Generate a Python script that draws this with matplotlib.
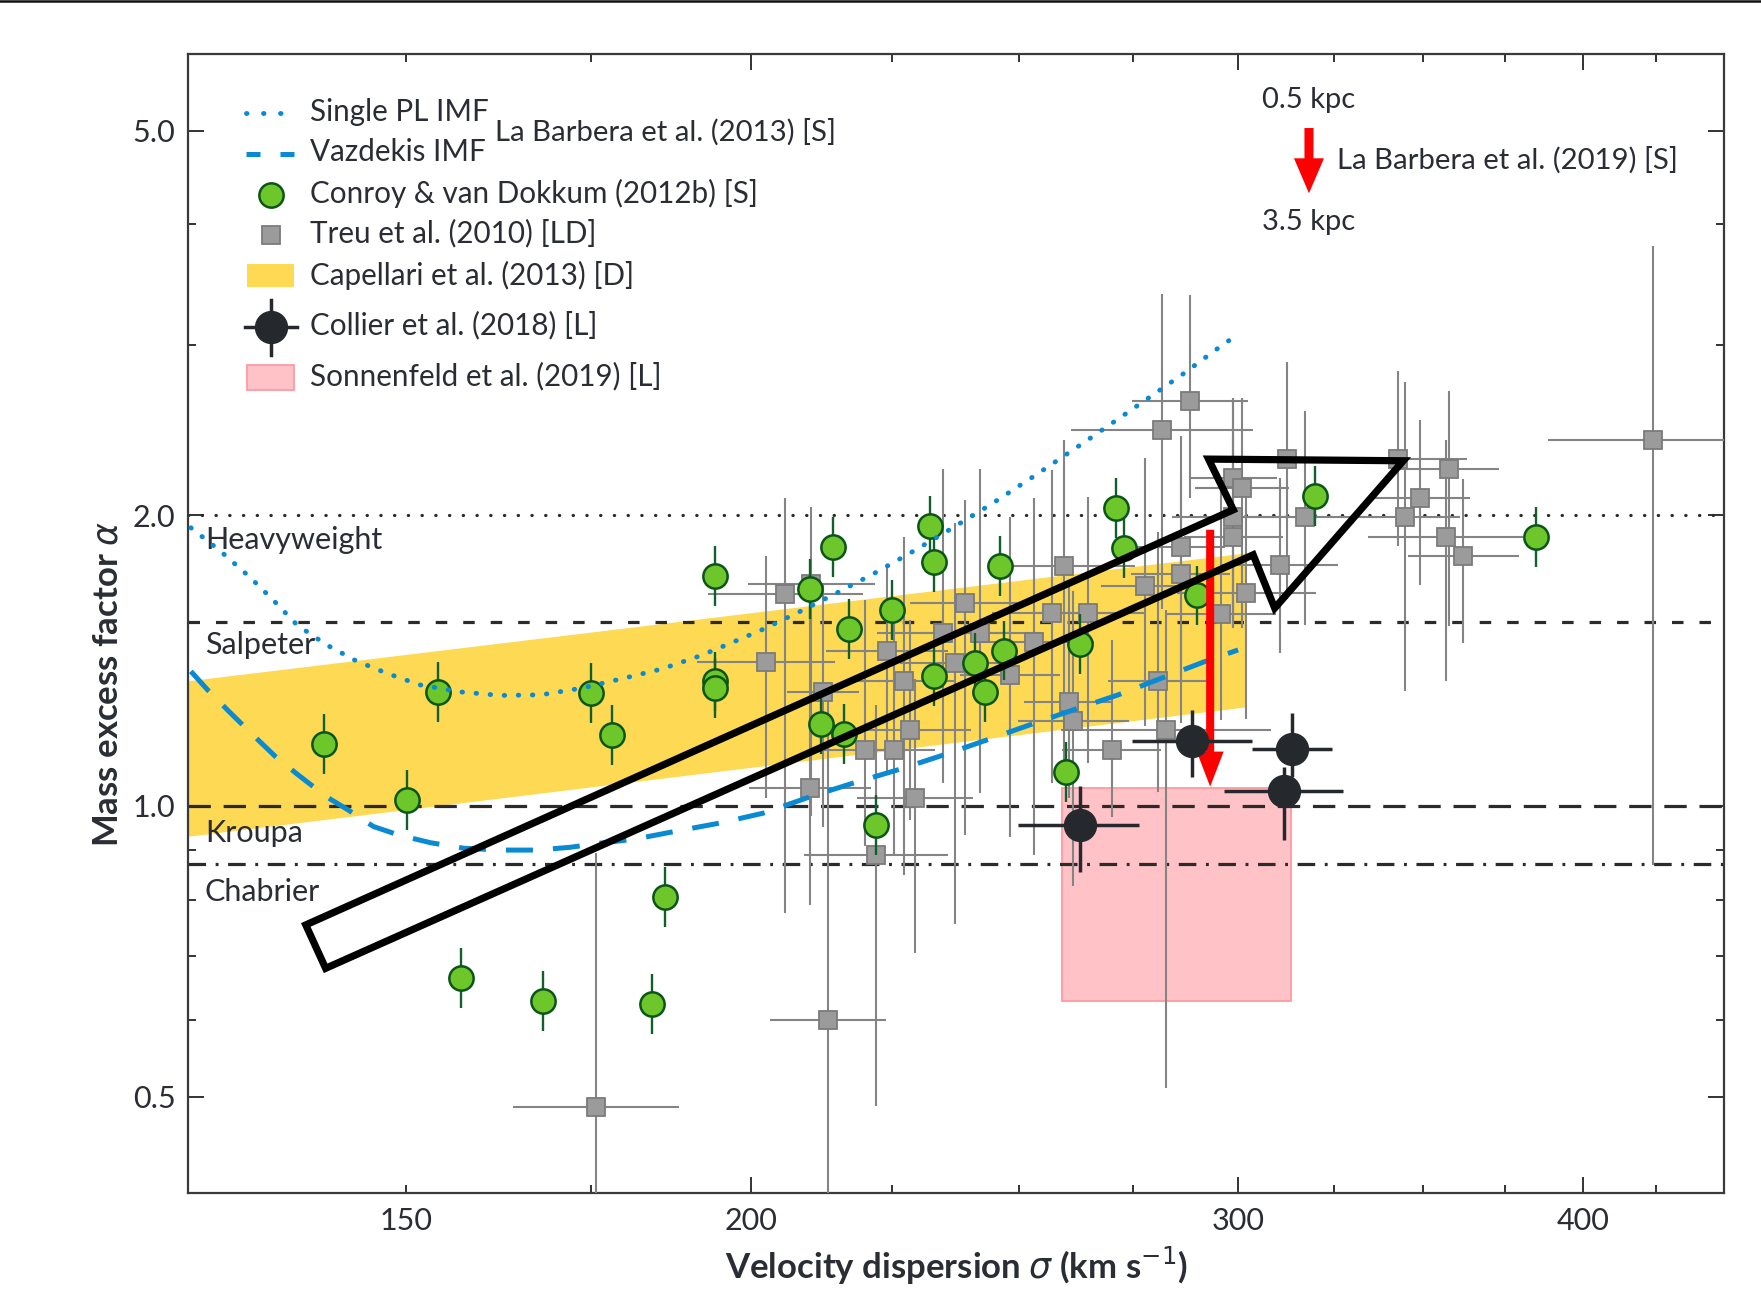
import numpy as np
import matplotlib
matplotlib.use("Agg")
import matplotlib.pyplot as plt
from matplotlib import font_manager
from matplotlib.patches import Polygon, Rectangle, FancyArrowPatch
from matplotlib.lines import Line2D
from matplotlib.ticker import FixedLocator, FixedFormatter, NullFormatter

###############################################################################
# Data

# Treu et al. (2010): sigma (km/s), alpha, errors in dex
treu_sigma = [175.8, 202.5, 205.8, 210.3, 210.1, 212.3, 213.3, 219.9, 221.9, 224.0,
              225.2, 227.2, 228.4, 229.3, 234.7, 237.1, 239.0, 242.1, 248.2, 253.1,
              257.1, 259.5, 260.6, 261.6, 264.9, 270.1, 277.7, 280.7, 281.7, 282.7,
              286.1, 286.1, 288.3, 295.8, 298.9, 301.1, 298.9, 298.9, 302.2, 310.7,
              312.7, 317.2, 342.8, 344.9, 349.2, 357.9, 356.8, 362.1, 424.1]
treu_alpha = [0.488, 1.408, 1.655, 1.697, 1.043, 1.313, 0.600, 1.143, 0.890, 1.445,
              1.143, 1.345, 1.198, 1.018, 1.509, 1.405, 1.620, 1.509, 1.366, 1.476,
              1.583, 1.773, 1.282, 1.223, 1.583, 1.143, 1.690, 1.345, 2.451, 1.198,
              1.855, 1.739, 2.622, 1.579, 2.184, 2.133, 1.990, 1.900, 1.661, 1.776,
              2.285, 1.990, 2.285, 1.990, 2.085, 2.233, 1.900, 1.814, 2.393]
treu_sigma_err = [0.030, 0.025, 0.028, 0.023, 0.022, 0.013, 0.021, 0.016, 0.026, 0.022,
                  0.015, 0.018, 0.022, 0.021, 0.024, 0.020, 0.020, 0.022, 0.018, 0.022,
                  0.022, 0.026, 0.016, 0.020, 0.020, 0.018, 0.016, 0.018, 0.033, 0.038,
                  0.016, 0.018, 0.021, 0.020, 0.016, 0.017, 0.022, 0.018, 0.025, 0.021,
                  0.020, 0.022, 0.025, 0.020, 0.018, 0.018, 0.028, 0.020, 0.038]
treu_alpha_up = [0.263, 0.110, 0.100, 0.080, 0.190, 0.110, 0.330, 0.155, 0.155, 0.088,
                 0.135, 0.150, 0.114, 0.124, 0.170, 0.145, 0.107, 0.170, 0.164, 0.150,
                 0.148, 0.130, 0.124, 0.135, 0.120, 0.114, 0.132, 0.155, 0.140, 0.124,
                 0.114, 0.100, 0.110, 0.135, 0.083, 0.093, 0.120, 0.104, 0.120, 0.090,
                 0.100, 0.110, 0.091, 0.140, 0.080, 0.080, 0.100, 0.080, 0.200]
treu_alpha_dn = [0.400, 0.140, 0.330, 0.240, 0.121, 0.140, 0.400, 0.100, 0.260, 0.124,
                 0.109, 0.200, 0.093, 0.160, 0.155, 0.270, 0.240, 0.165, 0.168, 0.220,
                 0.176, 0.220, 0.100, 0.170, 0.155, 0.070, 0.145, 0.114, 0.186, 0.370,
                 0.135, 0.155, 0.100, 0.110, 0.155, 0.145, 0.114, 0.093, 0.130, 0.091,
                 0.145, 0.112, 0.090, 0.180, 0.091, 0.163, 0.150, 0.090, 0.440]

# Conroy & van Dokkum (2012b)
cvd_sigma = [140.1, 150.1, 154.1, 157.1, 168.1, 175.0, 178.1, 184.1, 186.1, 194.1,
             194.1, 194.1, 210.1, 214.1, 217.0, 212.0, 216.1, 222.0, 225.0, 232.1,
             232.9, 232.9, 241.0, 243.1, 246.1, 247.0, 260.0, 263.1, 271.1, 273.0,
             290.0, 320.0, 384.8]
cvd_alpha = [1.159, 1.013, 1.312, 0.663, 0.628, 1.308, 1.184, 0.623, 0.804, 1.730,
             1.345, 1.324, 1.677, 1.853, 1.525, 1.215, 1.188, 0.955, 1.594, 1.949,
             1.789, 1.363, 1.406, 1.313, 1.773, 1.448, 1.085, 1.470, 2.035, 1.848,
             1.651, 2.094, 1.896]
cvd_alpha_err = 0.031  # dex

# Collier et al. (2018)
collier_sigma = [288.9, 263.1, 314.0, 311.8]
collier_alpha = [1.166, 0.956, 1.146, 1.036]
collier_sigma_lo = [274.7, 249.9, 303.5, 296.7]
collier_sigma_hi = [303.5, 276.4, 324.6, 327.6]
collier_alpha_lo = [1.072, 0.855, 1.072, 0.922]
collier_alpha_hi = [1.257, 1.049, 1.247, 1.097]

# La Barbera et al. (2013): single power-law and Vazdekis IMF trends
pl_sigma = [125.4, 128.5, 131.8, 134.5, 137.0, 140.4, 143.9, 147.8, 151.8, 157.0,
            162.3, 167.9, 173.7, 179.6, 185.7, 191.7, 196.0, 202.1, 208.3, 214.8,
            221.5, 228.0, 234.9, 244.1, 253.6, 263.4, 273.3, 286.6, 294.6, 300.1]
pl_alpha = [1.940, 1.836, 1.722, 1.626, 1.539, 1.468, 1.413, 1.370, 1.334, 1.312,
            1.301, 1.303, 1.324, 1.354, 1.386, 1.430, 1.468, 1.524, 1.589, 1.661,
            1.739, 1.822, 1.916, 2.049, 2.201, 2.368, 2.546, 2.798, 2.965, 3.078]
vaz_sigma = [125.4, 127.2, 129.6, 132.1, 134.5, 137.1, 140.4, 142.9, 146.0, 149.1,
             153.1, 157.4, 162.3, 167.3, 172.0, 176.4, 181.6, 187.7, 194.9, 202.1,
             210.1, 217.8, 226.1, 234.8, 243.4, 252.3, 261.6, 271.6, 281.6, 292.0, 300.1]
vaz_alpha = [1.378, 1.317, 1.248, 1.183, 1.126, 1.077, 1.022, 0.991, 0.952, 0.933,
             0.916, 0.904, 0.900, 0.900, 0.906, 0.915, 0.924, 0.941, 0.960, 0.983,
             1.022, 1.056, 1.090, 1.129, 1.170, 1.213, 1.257, 1.303, 1.356, 1.411, 1.450]

# Cappellari et al. (2013) band
cap_sigma = [125.0, 301.9]
cap_alpha_lo = [0.930, 1.266]
cap_alpha_hi = [1.347, 1.827]

# Sonnenfeld et al. (2019) box
son_sigma = [259.1, 313.5]
son_alpha = [0.628, 1.043]

# La Barbera et al. (2019): 0.5 kpc -> 3.5 kpc
lb19_sigma = 293.2
lb19_alpha = [1.931, 1.047]

# reference IMFs
ref_names = ["Heavyweight", "Salpeter", "Kroupa", "Chabrier"]
ref_alpha = [2.0, 1.55, 1.0, 0.87]
ref_label_alpha = [1.886, 1.468, 0.938, 0.815]

# outline of the hollow trend arrow (sigma, alpha)
trend_sigma = [138.0, 298.9, 292.8, 344.4, 309.4, 303.9, 140.3]
trend_alpha = [0.753, 2.025, 2.285, 2.276, 1.602, 1.819, 0.679]

###############################################################################
# Style

installed = {f.name for f in font_manager.fontManager.ttflist}
text_font = next(n for n in ["Lato", "Roboto", "DejaVu Sans"] if n in installed)
plt.rcParams["font.family"] = [text_font, "DejaVu Sans"]

TXT = "#2a2d34"
BLUE = "#0a8ad2"
GREEN_FACE = "#6dc72a"
GREEN_EDGE = "#0c5518"
GRAY_FACE = "#9b9b9b"
GRAY_EDGE = "#7b7b7b"
DARK = "#25292e"

fig = plt.figure(figsize=(17.61, 13.10), dpi=100)
ax = fig.add_axes([0.10676, 0.08931, 0.87223, 0.86947])
ax.set_xscale("log")
ax.set_yscale("log")
ax.set_xlim(125.1, 449.9)
ax.set_ylim(0.3975, 6.0)

###############################################################################
# Bands and boxes

ax.fill_between(cap_sigma, cap_alpha_lo, cap_alpha_hi, color="#fdd954",
                lw=0, zorder=1)
ax.add_patch(Rectangle((son_sigma[0], son_alpha[0]), son_sigma[1] - son_sigma[0],
                       son_alpha[1] - son_alpha[0], facecolor="#ffc3c7",
                       edgecolor="#ff9aa2", lw=1.3, zorder=1.5))

# reference IMF lines
ref_styles = [(0, (0.1, 4.2)), (0, (3.6, 5.0)), (0, (7.0, 4.0)),
              (0, (5.5, 3.0, 0.9, 3.0))]
for name, a, la, ls in zip(ref_names, ref_alpha, ref_label_alpha, ref_styles):
    cap = "round" if name == "Heavyweight" else "butt"
    ax.axhline(a, color="#2b2b2b", lw=2.3, ls=ls, dash_capstyle=cap, zorder=2)
    ax.text(0.011, la, name, transform=ax.get_yaxis_transform(), fontsize=22,
            color=TXT, ha="left", va="center", zorder=2)

###############################################################################
# Data points

ts = np.array(treu_sigma)
ta = np.array(treu_alpha)
tx = np.array(treu_sigma_err)
tu = np.array(treu_alpha_up)
td = np.array(treu_alpha_dn)
ax.errorbar(ts, ta,
            xerr=[ts - ts * 10 ** -tx, ts * 10 ** tx - ts],
            yerr=[ta - ta * 10 ** -td, ta * 10 ** tu - ta],
            fmt="s", ms=13.3, mfc=GRAY_FACE, mec=GRAY_EDGE, mew=1.3,
            ecolor="#848484", elinewidth=1.5, capsize=0, zorder=3)

cs = np.array(cvd_sigma)
ca = np.array(cvd_alpha)
ax.errorbar(cs, ca,
            yerr=[ca - ca * 10 ** -cvd_alpha_err, ca * 10 ** cvd_alpha_err - ca],
            fmt="o", ms=17.5, mfc=GREEN_FACE, mec=GREEN_EDGE, mew=1.8,
            ecolor="#11602a", elinewidth=1.7, capsize=0, zorder=5)

# IMF trends
ax.plot(pl_sigma, pl_alpha, color=BLUE, lw=3.5, ls=(0, (0.1, 2.8)),
        dash_capstyle="round", zorder=6)
ax.plot(vaz_sigma, vaz_alpha, color=BLUE, lw=3.6, ls=(0, (5.4, 4.0)), zorder=6)

# La Barbera et al. (2019) gradient
ax.add_patch(FancyArrowPatch((lb19_sigma, lb19_alpha[0]), (lb19_sigma, lb19_alpha[1]),
                             arrowstyle="simple,head_length=2.52,head_width=1.94,"
                                        "tail_width=0.58",
                             mutation_scale=10, color="#ff0000", lw=0,
                             shrinkA=0, shrinkB=0, zorder=7))

cls = np.array(collier_sigma)
cla = np.array(collier_alpha)
ax.errorbar(cls, cla,
            xerr=[cls - np.array(collier_sigma_lo), np.array(collier_sigma_hi) - cls],
            yerr=[cla - np.array(collier_alpha_lo), np.array(collier_alpha_hi) - cla],
            fmt="o", ms=23, mfc=DARK, mec=DARK, ecolor=DARK, elinewidth=2.5,
            capsize=0, zorder=8)

ax.add_patch(Polygon(np.column_stack([trend_sigma, trend_alpha]), closed=True,
                     fill=False, edgecolor="black", lw=5.2, joinstyle="miter",
                     zorder=9))

###############################################################################
# Axes, ticks, labels

for sp in ax.spines.values():
    sp.set_color("#3a3a3a")
    sp.set_linewidth(1.6)

ax.xaxis.set_major_locator(FixedLocator([200, 300, 400]))
ax.xaxis.set_major_formatter(FixedFormatter(["200", "300", "400"]))
x_minor = [150, 175, 225, 250, 275, 325, 350, 375, 425]
ax.xaxis.set_minor_locator(FixedLocator(x_minor))
ax.xaxis.set_minor_formatter(FixedFormatter(["150"] + [""] * (len(x_minor) - 1)))

ax.yaxis.set_major_locator(FixedLocator([0.5, 1.0, 2.0, 5.0]))
ax.yaxis.set_major_formatter(FixedFormatter(["0.5", "1.0", "2.0", "5.0"]))
ax.yaxis.set_minor_locator(FixedLocator([0.6, 0.7, 0.8, 0.9, 3.0, 4.0]))
ax.yaxis.set_minor_formatter(NullFormatter())

ax.tick_params(which="both", direction="in", top=True, right=True,
               color="#333333", width=1.4, labelsize=22, labelcolor=TXT)
ax.tick_params(which="major", length=11.5)
ax.tick_params(which="minor", length=5.5)
ax.tick_params(axis="x", which="both", pad=10)
ax.tick_params(axis="y", which="both", pad=9)

fig.text(956 / 1761, 1 - 1266 / 1310, r"Velocity dispersion $\sigma$ (km s$^{-1}$)",
         ha="center", va="center", fontsize=25, fontweight="bold", color=TXT)
fig.text(108 / 1761, 1 - 684 / 1310, r"Mass excess factor $\alpha$", rotation=90,
         ha="center", va="center", fontsize=25, fontweight="bold", color=TXT)

###############################################################################
# Legend, drawn in axes coordinates

T = ax.transAxes
lx0, lx1, lxm, ltx = 0.0378, 0.0710, 0.0538, 0.0791
ax.add_line(Line2D([lx0, lx1], [0.9479, 0.9479], transform=T, color=BLUE, lw=3.5,
                   ls=(0, (0.1, 3.4)), dash_capstyle="round", clip_on=False))
ax.add_line(Line2D([lx0, lx1], [0.9119, 0.9119], transform=T, color=BLUE, lw=3.6,
                   ls=(0, (2.8, 4.0)), clip_on=False))
ax.plot([lxm], [0.8762], "o", ms=17.5, mfc=GREEN_FACE, mec=GREEN_EDGE, mew=1.8,
        transform=T, clip_on=False)
ax.plot([lxm], [0.8411], "s", ms=13.3, mfc=GRAY_FACE, mec=GRAY_EDGE, mew=1.3,
        transform=T, clip_on=False)
ax.add_patch(Rectangle((0.0384, 0.7952), 0.0309, 0.0204, transform=T,
                       facecolor="#fdd954", lw=0, clip_on=False))
ax.add_line(Line2D([lxm, lxm], [0.7357, 0.7840], transform=T, color=DARK, lw=2.5,
                   clip_on=False))
ax.add_line(Line2D([0.0368, 0.0710], [0.7601, 0.7601], transform=T, color=DARK,
                   lw=2.5, clip_on=False))
ax.plot([lxm], [0.7601], "o", ms=23, color=DARK, transform=T, clip_on=False)
ax.add_patch(Rectangle((0.0384, 0.7050), 0.0309, 0.0219, transform=T,
                       facecolor="#ffc3c7", edgecolor="#ff9aa2", lw=1.3,
                       clip_on=False))

legend_rows = [(0.9493, "Single PL IMF"), (0.9142, "Vazdekis IMF"),
               (0.8777, "Conroy & van Dokkum (2012b) [S]"),
               (0.8428, "Treu et al. (2010) [LD]"),
               (0.8060, "Capellari et al. (2013) [D]"),
               (0.7621, "Collier et al. (2018) [L]"),
               (0.7173, "Sonnenfeld et al. (2019) [L]")]
for y, s in legend_rows:
    ax.text(ltx, y, s, transform=T, fontsize=21.3, color=TXT, ha="left",
            va="center")
ax.text(0.1997, 0.9318, "La Barbera et al. (2013) [S]", transform=T, fontsize=21.2,
        color=TXT, ha="left", va="center")

# radial gradient key
ax.text(0.7298, 0.9599, "0.5 kpc", transform=T, fontsize=21, color=TXT,
        ha="center", va="center")
ax.text(0.7298, 0.8527, "3.5 kpc", transform=T, fontsize=21, color=TXT,
        ha="center", va="center")
ax.add_patch(FancyArrowPatch((0.7298, 0.9350), (0.7298, 0.8777), transform=T,
                             arrowstyle="simple,head_length=2.52,head_width=2.16,"
                                        "tail_width=0.65",
                             mutation_scale=10, color="#ff0000", lw=0,
                             shrinkA=0, shrinkB=0, clip_on=False))
ax.text(0.7480, 0.9070, "La Barbera et al. (2019) [S]", transform=T, fontsize=21.2,
        color=TXT, ha="left", va="center")

# thin rule across the top of the page
fig.add_artist(Line2D([0, 1], [0.9990, 0.9990], transform=fig.transFigure,
                      color="#111111", lw=1.8))

fig.savefig("out.png", dpi=100)
